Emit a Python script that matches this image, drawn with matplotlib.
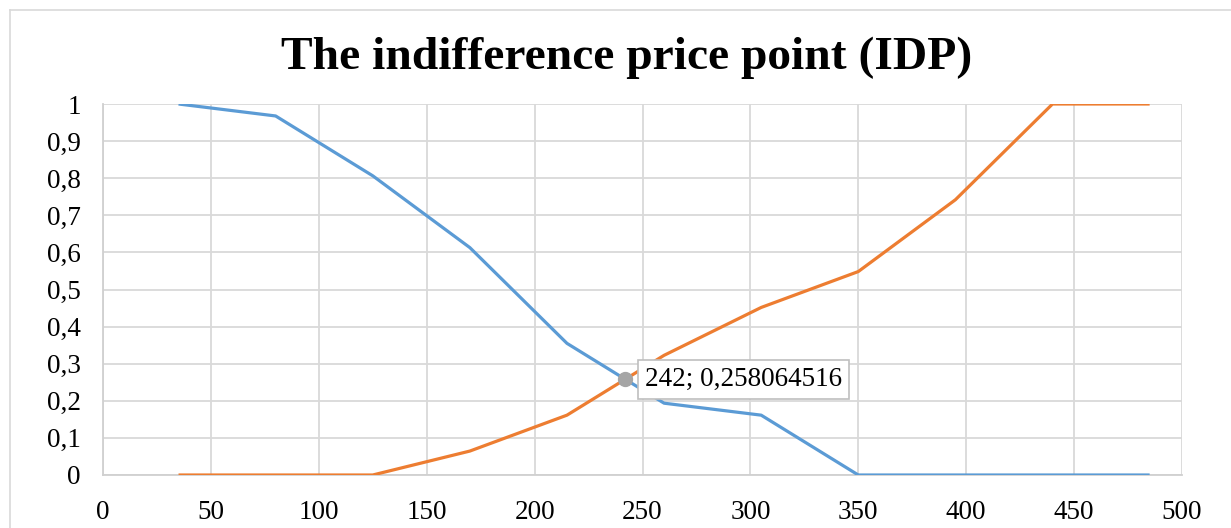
import matplotlib
matplotlib.use("Agg")
import matplotlib.pyplot as plt
from matplotlib.ticker import FuncFormatter, MultipleLocator
from matplotlib.lines import Line2D

# Data
prices = [35, 80, 125, 170, 215, 260, 305, 350, 395, 440, 485]
too_cheap = [1.0, 0.967742, 0.806452, 0.612903, 0.354839, 0.193548, 0.161290, 0.0, 0.0, 0.0, 0.0]
too_expensive = [0.0, 0.0, 0.0, 0.064516, 0.161290, 0.322581, 0.451613, 0.548387, 0.741935, 1.0, 1.0]
idp_x = 242
idp_y = 0.258064516
idp_label = "242; 0,258064516"
title = "The indifference price point (IDP)"

plt.rcParams['font.family'] = ['Liberation Serif', 'DejaVu Serif']

fig = plt.figure(figsize=(12.31, 5.28), dpi=100)
ax = fig.add_axes([103/1231, 1-475/528, (1182-103)/1231, (475-104)/528])

ax.plot(prices, too_cheap, color='#5B9BD5', lw=2.3, solid_capstyle='butt', zorder=3)
ax.plot(prices, too_expensive, color='#ED7D31', lw=2.3, solid_capstyle='butt', zorder=3)
ax.plot([idp_x], [idp_y], 'o', color='#A5A5A5', ms=10, zorder=4)
ax.annotate(idp_label, xy=(idp_x, idp_y), xytext=(14, 0), textcoords='offset points',
            ha='left', va='center', fontsize=19.5,
            bbox=dict(boxstyle='square,pad=0.25', fc='white', ec='#BFBFBF', lw=1.2), zorder=5)

ax.set_xlim(0, 500)
ax.set_ylim(0, 1)
ax.xaxis.set_major_locator(MultipleLocator(50))
ax.yaxis.set_major_locator(MultipleLocator(0.1))

def fmt(v, pos):
    s = f"{v:.1f}".rstrip('0').rstrip('.')
    return s.replace('.', ',')
ax.yaxis.set_major_formatter(FuncFormatter(fmt))
ax.xaxis.set_major_formatter(FuncFormatter(lambda v, p: f"{int(round(v))}"))

ax.grid(True, color='#D9D9D9', lw=1.3)
ax.set_axisbelow(True)
for s in ['top', 'right']:
    ax.spines[s].set_visible(False)
for s in ['left', 'bottom']:
    ax.spines[s].set_color('#D0D0D0')
    ax.spines[s].set_linewidth(1.3)
ax.tick_params(axis='both', length=0, labelsize=19.5, colors='black')
ax.tick_params(axis='x', pad=18)
ax.tick_params(axis='y', pad=16)

fig.text(627/1231, 1 - 58/528, title, ha='center', va='center', fontsize=34.2, fontweight='bold')

# outer chart border
fig.add_artist(Line2D([10/1231, 10/1231], [0, 1 - 10/528], color='#D9D9D9', lw=1.2, transform=fig.transFigure))
fig.add_artist(Line2D([10/1231, 1], [1 - 10/528, 1 - 10/528], color='#D9D9D9', lw=1.2, transform=fig.transFigure))

fig.savefig('out.png', dpi=100)
